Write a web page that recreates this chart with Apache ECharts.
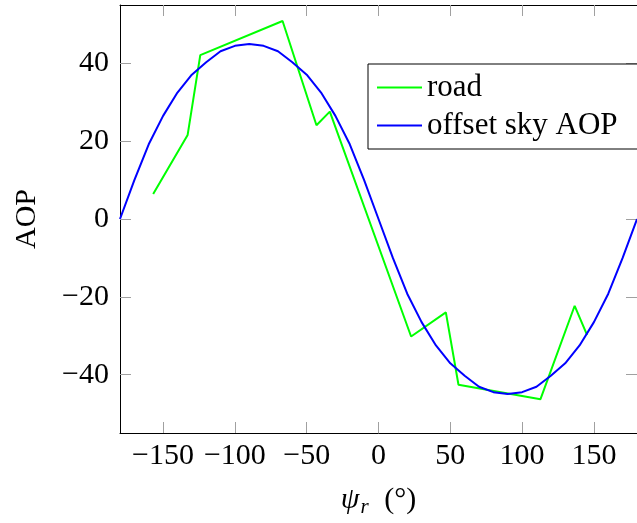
<!DOCTYPE html>
<html>
<head>
<meta charset="utf-8">
<script src="https://cdn.jsdelivr.net/npm/echarts@6.0.0/dist/echarts.min.js"></script>
<style>
  html, body { margin: 0; padding: 0; background: #fff; }
  #chart { width: 637px; height: 523px; }
</style>
</head>
<body>
<div id="chart"></div>
<script>
// road (x in degrees, AOP)
var roadX = [-156.9, -132.9, -124.1, -66.8, -43.2, -33.9, 22.7, 46.9, 55.7, 112.8, 136.6, 145.2];
var roadY = [6.4, 21.6, 42.1, 50.9, 24.1, 27.6, -30.2, -24.0, -42.6, -46.3, -22.3, -29.8];

// offset sky AOP, sampled every 10 degrees
var skyX = [-180, -170, -160, -150, -140, -130, -120, -110, -100, -90, -80, -70, -60, -50, -40, -30, -20, -10,
            0, 10, 20, 30, 40, 50, 60, 70, 80, 90, 100, 110, 120, 130, 140, 150, 160, 170, 180];
var skyY = [0, 10, 19.2, 26.5, 32.5, 37.1, 40.3, 43.1, 44.5, 45, 44.5, 43.1, 40.3, 37.1, 32.5, 26.5, 19.2, 10,
            0, -10, -19.2, -26.5, -32.5, -37.1, -40.3, -43.1, -44.5, -45, -44.5, -43.1, -40.3, -37.1, -32.5, -26.5, -19.2, -10, 0];

var xTicks = [-150, -100, -50, 0, 50, 100, 150];
var yTicks = [-40, -20, 0, 20, 40];

function pairs(xs, ys) {
    var out = [];
    for (var i = 0; i < xs.length; i++) out.push([xs[i], ys[i]]);
    return out;
}
function minus(v) {
    return String(v).replace('-', '\u2212');
}

var font = 'Liberation Serif';
var tickStyle = { show: true, inside: true, length: 11, lineStyle: { color: '#a0a0a0', width: 1 } };
var lineStyle = { show: true, onZero: false, lineStyle: { color: '#000', width: 1 } };

var myChart = echarts.init(document.getElementById('chart'));

option = {
    animation: false,
    backgroundColor: '#fff',
    grid: {
        left: 120,
        top: 5,
        width: 519,
        height: 431
    },
    legend: {
        orient: 'vertical',
        left: 368,
        top: 64,
        padding: [8, 50, 8, 9],
        itemGap: 7,
        itemWidth: 45,
        itemHeight: 2,
        icon: 'rect',
        borderColor: '#000',
        borderWidth: 1,
        borderRadius: 0,
        backgroundColor: '#fff',
        textStyle: { fontFamily: font, fontSize: 31, color: '#000', lineHeight: 31 },
        data: ['road', 'offset sky AOP']
    },
    xAxis: [
        {
            type: 'value',
            position: 'bottom',
            min: -180,
            max: 180,
            splitLine: { show: false },
            axisLine: lineStyle,
            axisTick: Object.assign({ customValues: xTicks }, tickStyle),
            axisLabel: {
                customValues: xTicks,
                margin: 8,
                fontFamily: font,
                fontSize: 30,
                color: '#000',
                formatter: minus
            },
            name: '{i|\u03c8}{s|r} (\u00b0)',
            nameLocation: 'middle',
            nameGap: 50,
            nameTextStyle: {
                fontFamily: font,
                fontSize: 30,
                color: '#000',
                rich: {
                    i: { fontFamily: font, fontSize: 30, fontStyle: 'italic', color: '#000' },
                    s: { fontFamily: font, fontSize: 21, fontStyle: 'italic', color: '#000', padding: [14, 8, 0, 1] }
                }
            }
        },
        {
            type: 'value',
            position: 'top',
            min: -180,
            max: 180,
            splitLine: { show: false },
            axisLine: lineStyle,
            axisTick: Object.assign({ customValues: xTicks }, tickStyle),
            axisLabel: { show: false }
        }
    ],
    yAxis: [
        {
            type: 'value',
            position: 'left',
            min: -55,
            max: 55,
            splitLine: { show: false },
            axisLine: lineStyle,
            axisTick: Object.assign({ customValues: yTicks }, tickStyle),
            axisLabel: {
                customValues: yTicks,
                margin: 11,
                fontFamily: font,
                fontSize: 30,
                color: '#000',
                formatter: minus
            },
            name: 'AOP',
            nameLocation: 'middle',
            nameGap: 78,
            nameTextStyle: { fontFamily: font, fontSize: 30, color: '#000' }
        },
        {
            type: 'value',
            position: 'right',
            min: -55,
            max: 55,
            splitLine: { show: false },
            axisLine: lineStyle,
            axisTick: Object.assign({ customValues: yTicks }, tickStyle),
            axisLabel: { show: false }
        }
    ],
    series: [
        {
            name: 'road',
            type: 'line',
            data: pairs(roadX, roadY),
            symbol: 'none',
            color: '#00ff00',
            lineStyle: { color: '#00ff00', width: 2 }
        },
        {
            name: 'offset sky AOP',
            type: 'line',
            data: pairs(skyX, skyY),
            symbol: 'none',
            color: '#0000ff',
            lineStyle: { color: '#0000ff', width: 2 }
        }
    ]
};

myChart.setOption(option);
</script>
</body>
</html>
